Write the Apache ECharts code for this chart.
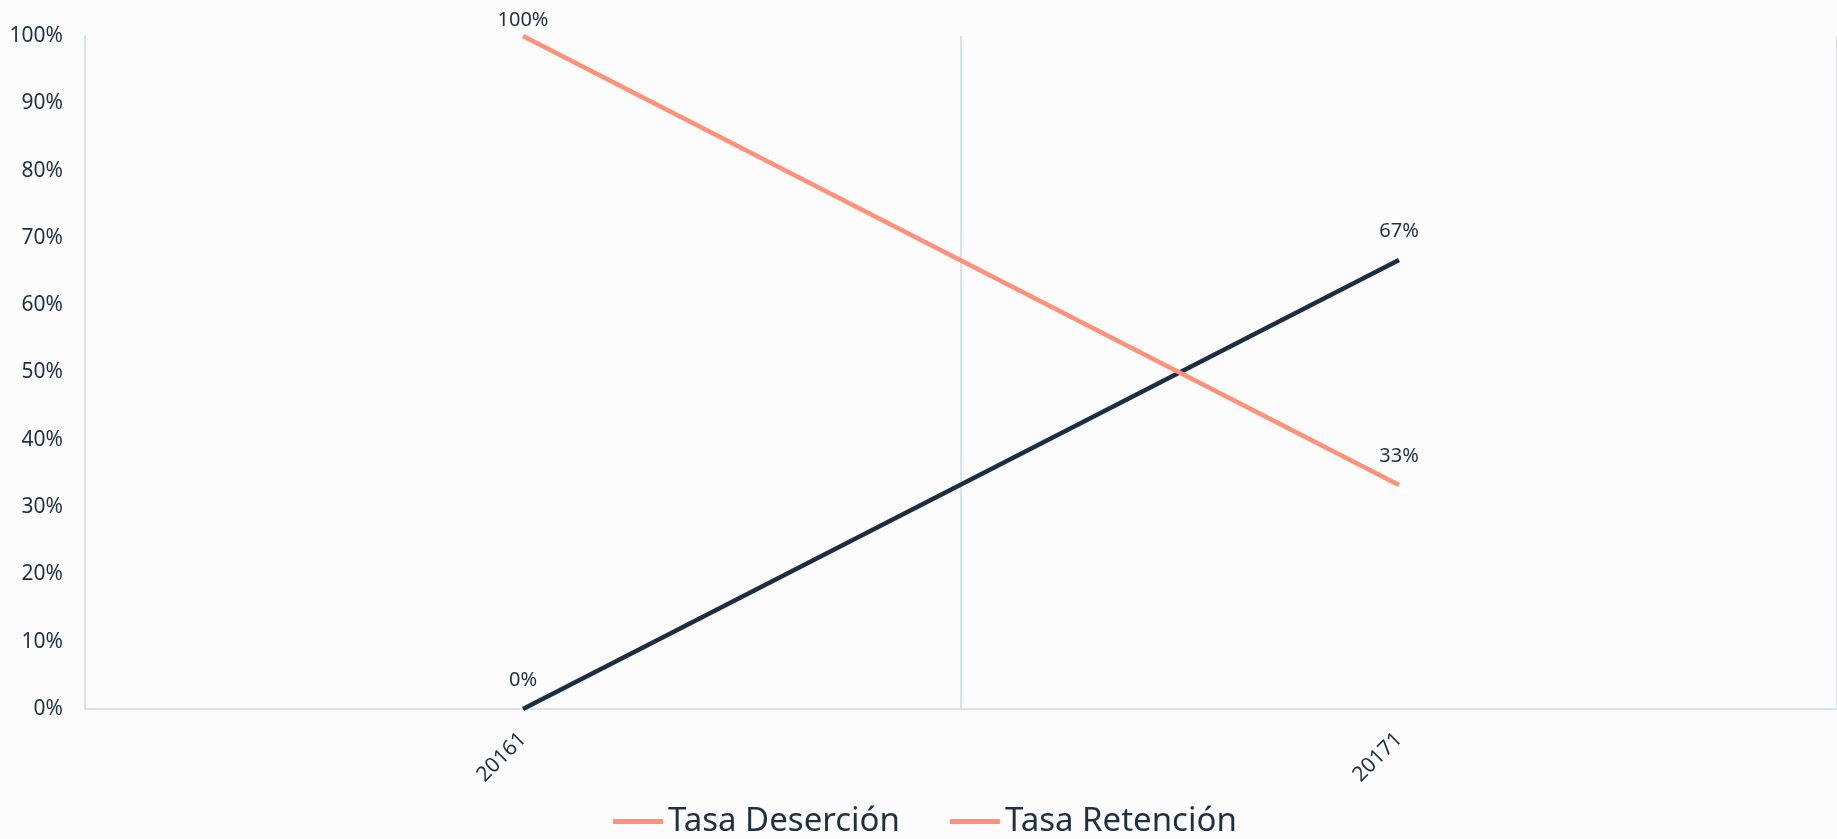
<!DOCTYPE html>
<html>
<head>
<meta charset="utf-8">
<script src="https://cdn.jsdelivr.net/npm/echarts@6/dist/echarts.min.js"></script>
<style>
  html, body { margin: 0; padding: 0; background: #fcfcfc; }
  #chart { width: 1837px; height: 839px; }
</style>
</head>
<body>
<div id="chart"></div>
<script>
// datos
const periodos = ['20161', '20171'];
const tasaDesercion = [0, 0.667];
const tasaRetencion = [1, 0.333];

const textColor = '#1f3044';
const axisColor = '#d6e2ef';
const salmon = '#ff9178';
const navy = '#1c2e42';
const fontFamily = '"Noto Sans", sans-serif';

const chart = echarts.init(document.getElementById('chart'));

const pct = v => Math.round(v * 100) + '%';

const dataLabel = {
  show: true,
  position: 'top',
  distance: 19,
  formatter: p => pct(p.value),
  fontSize: 20,
  color: textColor
};

// las etiquetas que se salen por arriba se bajan un poco (como en Excel)
const keepInside = params => {
  const top = params.labelRect.y;
  if (top < 10) return { dy: 10 - top };
  return {};
};

const option = {
  backgroundColor: '#fcfcfc',
  textStyle: { fontFamily: fontFamily, color: textColor },
  grid: { left: 85, right: -7, top: 36, bottom: 130 },
  legend: {
    bottom: -4,
    left: 608,
    icon: 'rect',
    itemWidth: 50,
    itemHeight: 5,
    itemGap: 50,
    textStyle: { fontSize: 33, color: textColor, fontFamily: fontFamily },
    data: [
      { name: 'Tasa Deserción', itemStyle: { color: salmon } },
      { name: 'Tasa Retención', itemStyle: { color: salmon } }
    ]
  },
  xAxis: {
    type: 'category',
    data: periodos,
    boundaryGap: true,
    axisTick: { show: false },
    axisLine: { lineStyle: { color: axisColor, width: 2 } },
    splitLine: { show: true, lineStyle: { color: axisColor, width: 2 } },
    axisLabel: { rotate: 45, margin: 27, fontSize: 21, color: textColor }
  },
  yAxis: {
    type: 'value',
    min: 0,
    max: 1,
    interval: 0.1,
    axisLine: { show: true, lineStyle: { color: axisColor, width: 2 } },
    axisTick: { show: false },
    splitLine: { show: false },
    axisLabel: { formatter: pct, margin: 22, fontSize: 21, color: textColor }
  },
  series: [
    {
      name: 'Tasa Deserción',
      type: 'line',
      data: tasaDesercion,
      symbol: 'circle',
      symbolSize: 0.01,
      showSymbol: true,
      lineStyle: { color: navy, width: 4.5 },
      itemStyle: { color: navy },
      label: dataLabel,
      labelLayout: keepInside
    },
    {
      name: 'Tasa Retención',
      type: 'line',
      data: tasaRetencion,
      symbol: 'circle',
      symbolSize: 0.01,
      showSymbol: true,
      lineStyle: { color: salmon, width: 4.5 },
      itemStyle: { color: salmon },
      label: dataLabel,
      labelLayout: keepInside
    }
  ]
};

chart.setOption(option);
window.addEventListener('resize', () => chart.resize());
</script>
</body>
</html>
